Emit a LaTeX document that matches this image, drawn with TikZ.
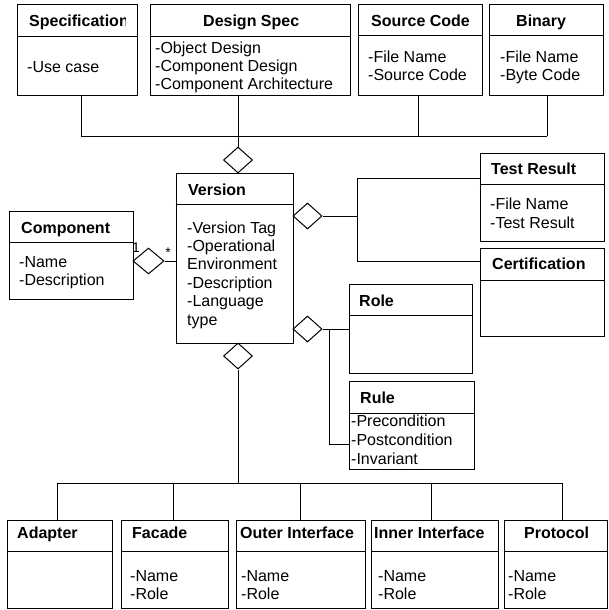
\documentclass[tikz,border=0pt]{standalone}
\usepackage{fontspec}
\setmainfont{Liberation Sans}
\usetikzlibrary{shapes.geometric}
\begin{document}
\begin{tikzpicture}[x=1pt,y=-1pt,
  box/.style={draw,line width=1pt,inner sep=0pt,rectangle},
  agg/.style={draw,line width=1pt,shape=diamond,inner sep=0pt,fill=white,
              minimum width=29pt,minimum height=26pt},
  link/.style={line width=1pt},
  title/.style={anchor=base west,inner sep=0pt,font=\fontsize{16}{18.4}\selectfont\bfseries},
  % multi-line attribute lists: the node is placed at the baseline of its last line
  item/.style={anchor=base west,inner sep=0pt,align=left,font=\fontsize{16}{18.4}\selectfont},
  mult/.style={inner sep=0pt,font=\fontsize{14}{16}\selectfont}]
\useasboundingbox (0,0) rectangle (608,610);

% class boxes
\node[box,minimum width=120pt,minimum height=90pt] (spec) at (77,50) {};
\node[box,minimum width=200pt,minimum height=90pt] (ds)   at (250,50) {};
\node[box,minimum width=124pt,minimum height=90pt] (src)  at (420,50) {};
\node[box,minimum width=114pt,minimum height=90pt] (bin)  at (546,50) {};
\node[box,minimum width=124pt,minimum height=88pt] (comp) at (71,255) {};
\node[box,minimum width=117pt,minimum height=170pt] (ver) at (234.5,258) {};
\node[box,minimum width=124pt,minimum height=88pt] (tr)   at (542,197) {};
\node[box,minimum width=124pt,minimum height=88pt] (cert) at (542,292) {};
\node[box,minimum width=123pt,minimum height=89pt] (role) at (410.5,328.5) {};
\node[box,minimum width=125pt,minimum height=88pt] (rule) at (411.5,425) {};
\node[box,minimum width=105pt,minimum height=88pt] (ad)   at (59.5,564) {};
\node[box,minimum width=107pt,minimum height=88pt] (fa)   at (174.5,564) {};
\node[box,minimum width=129pt,minimum height=88pt] (oi)   at (300.5,564) {};
\node[box,minimum width=127pt,minimum height=88pt] (ii)   at (434.5,564) {};
\node[box,minimum width=103pt,minimum height=88pt] (pr)   at (555.5,564) {};

% compartment dividers
\draw[link] (spec.west |- 0,37) -- (spec.east |- 0,37);
\draw[link] (ds.west |- 0,37) -- (ds.east |- 0,37);
\draw[link] (src.west |- 0,36) -- (src.east |- 0,36);
\draw[link] (bin.west |- 0,36) -- (bin.east |- 0,36);
\draw[link] (comp.west |- 0,242) -- (comp.east |- 0,242);
\draw[link] (ver.west |- 0,204) -- (ver.east |- 0,204);
\draw[link] (tr.west |- 0,184) -- (tr.east |- 0,184);
\draw[link] (cert.west |- 0,280) -- (cert.east |- 0,280);
\draw[link] (role.west |- 0,315) -- (role.east |- 0,315);
\draw[link] (rule.west |- 0,413) -- (rule.east |- 0,413);
\foreach \b in {ad,fa,oi,ii,pr}
  \draw[link] (\b.west |- 0,551) -- (\b.east |- 0,551);

% titles
\begin{scope}
  \clip (17,5) rectangle (125.5,37);
  \node[title] (specT) at (29,27) {Specification};
\end{scope}
\node[title] (dsT)   at (203,27) {Design Spec};
\node[title] (srcT)  at (371,27) {Source Code};
\node[title] (binT)  at (516,27) {Binary};
\node[title] (compT) at (21,233) {Component};
\node[title] (verT)  at (188,195) {Version};
\node[title] (trT)   at (491,174) {Test Result};
\node[title] (certT) at (492,269) {Certification};
\node[title] (roleT) at (359,306) {Role};
\node[title] (ruleT) at (360,403) {Rule};
\node[title] (adT)   at (17,538) {Adapter};
\node[title] (faT)   at (132,538) {Facade};
\node[title] (oiT)   at (240,538) {Outer Interface};
\node[title] (iiT)   at (374,538) {Inner Interface};
\node[title] (prT)   at (524,538) {Protocol};

% attributes
\node[item] (specA) at (27,73) {-Use case};
\node[item,font=\fontsize{16}{18}\selectfont] (dsA) at (155,89.5)
  {-Object Design\\-Component Design\\-Component Architecture};
\node[item] (srcA) at (368,81) {-File Name\\-Source Code};
\node[item] (binA) at (500,81) {-File Name\\-Byte Code};
\node[item] (compA) at (19,285.5) {-Name\\-Description};
\node[item] (verA) at (187,325)
  {-Version Tag\\-Operational\\Environment\\-Description\\-Language\\type};
\node[item,font=\fontsize{16}{19}\selectfont] (trA) at (490,228) {-File Name\\-Test Result};
\node[item,font=\fontsize{16}{19}\selectfont] (ruleA) at (351,464)
  {-Precondition\\-Postcondition\\-Invariant};
\node[item] (faA) at (130,599.4) {-Name\\-Role};
\node[item] (oiA) at (241,599.4) {-Name\\-Role};
\node[item] (iiA) at (378,599.4) {-Name\\-Role};
\node[item] (prA) at (508,599.4) {-Name\\-Role};

% aggregation diamonds on Version
\node[agg] (vtop) at (238,160) {};
\node[agg,minimum width=31pt] (vleft) at (148.5,261) {};
\node[agg] (vr1) at (307.5,216) {};
\node[agg] (vr2) at (307.5,329) {};
\node[agg] (vbot) at (238,356) {};

% upper bus: artefacts to Version
\coordinate (tb1) at (81,136);
\coordinate (tb3) at (418,136);
\coordinate (tb4) at (547,136);
\draw[link] (tb1) -- (tb4);
\draw[link] (tb1) -- (tb1 |- spec.south);
\draw[link] (tb3) -- (tb3 |- src.south);
\draw[link] (tb4) -- (tb4 |- bin.south);
\draw[link] (vtop.north) -- (vtop.north |- ds.south);

% Component to Version
\draw[link] (vleft.east) -- (ver.west |- vleft.east);
\node[mult] (m1) at (136,248) {1};
\node[mult] (m2) at (168,253) {*};

% Test Result and Certification
\coordinate (tj1) at (357,178);
\coordinate (tj2) at (357,261);
\draw[link] (vr1.east) -- (tj1 |- vr1.east);
\draw[link] (tr.west |- tj1) -- (tj1) -- (tj2) -- (cert.west |- tj2);

% Role and Rule
\coordinate (rj) at (329,444);
\draw[link] (vr2.east) -- (role.west |- vr2.east);
\draw[link] (rj |- vr2.east) -- (rj) -- (rule.west |- rj);

% lower bus: Version to interface elements
\coordinate (bb1) at (57,483);
\coordinate (bb2) at (173,483);
\coordinate (bb3) at (300,483);
\coordinate (bb4) at (431,483);
\coordinate (bb5) at (562,483);
\draw[link] (vbot.south) -- (vbot.south |- bb1);
\draw[link] (bb1) -- (bb5);
\draw[link] (bb1) -- (bb1 |- ad.north);
\draw[link] (bb2) -- (bb2 |- fa.north);
\draw[link] (bb3) -- (bb3 |- oi.north);
\draw[link] (bb4) -- (bb4 |- ii.north);
\draw[link] (bb5) -- (bb5 |- pr.north);
\end{tikzpicture}
\end{document}
